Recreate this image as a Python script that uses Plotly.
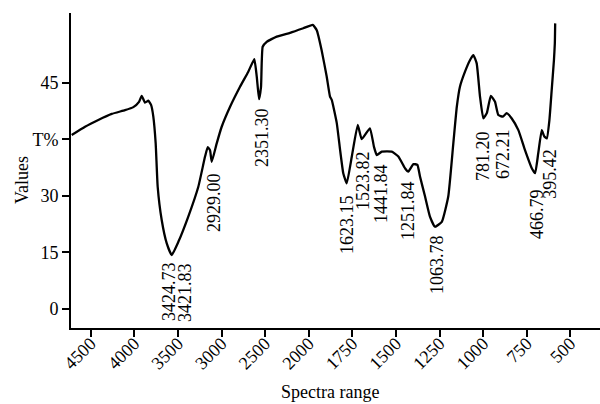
import numpy as np
import plotly.graph_objects as go

# Wavenumber (as read on the chart's axis) and transmittance values (axis units)
wavenumber = [4718, 4565, 4413, 4259, 4107, 4011, 3946, 3915, 3877, 3839, 3808, 3782, 3755, 3732,
              3686, 3628, 3571, 3495, 3381, 3266, 3189, 3158, 3132, 3112, 3055, 2998, 2902, 2788,
              2693, 2624, 2596, 2570, 2547, 2528, 2482, 2367, 2214, 2062, 1977, 1954, 1926, 1897,
              1878, 1868, 1839, 1820, 1802, 1782, 1753, 1719, 1696, 1649, 1626, 1610, 1581, 1524,
              1486, 1448, 1429, 1400, 1377, 1362, 1333, 1305, 1276, 1237, 1200, 1171, 1151, 1133,
              1104, 1075, 1056, 1037, 1018, 999, 979, 956, 932, 913, 887, 865, 836, 798, 760, 721,
              702, 684, 664, 649, 635, 620, 607, 594, 589, 587]
transmittance = [46.1, 48.3, 50.1, 51.7, 52.7, 53.5, 54.9, 56.5, 54.7, 55.2, 54.1, 51.0, 43.9, 32.4,
                 23.6, 17.4, 14.3, 17.8, 24.5, 32.4, 40.4, 42.9, 42.1, 39.0, 43.9, 48.3, 53.6, 58.9,
                 62.9, 66.2, 61.6, 55.6, 58.9, 69.5, 70.8, 72.2, 73.2, 74.4, 75.3, 73.9, 68.6, 61.6,
                 56.3, 55.4, 49.2, 42.1, 36.0, 33.3, 40.4, 48.8, 45.0, 47.9, 43.0, 40.8, 41.7, 41.7,
                 40.4, 37.3, 36.4, 38.4, 38.2, 35.1, 29.8, 24.5, 21.8, 23.1, 29.8, 43.9, 53.6, 58.9,
                 62.9, 66.0, 67.3, 65.1, 56.3, 50.5, 51.9, 56.5, 54.9, 51.4, 51.0, 51.9, 50.5, 47.4,
                 42.1, 37.3, 36.0, 41.3, 47.4, 45.7, 45.2, 50.1, 58.0, 66.0, 70.4, 75.7]

# Peak labels: text and label-centre positions (axis units)
peak_labels = ["3424.73", "3421.83", "2929.00", "2351.30", "1623.15", "1523.82", "1441.84",
               "1251.84", "1063.78", "781.20", "672.21", "466.79", "395.42"]
label_w = [3602, 3419, 3086, 2536, 1780, 1689, 1586, 1431, 1264, 1000, 886, 691, 617]
label_t = [4.5, 4.5, 28.1, 45.6, 22.3, 34.2, 30.7, 26.2, 11.7, 40.6, 41.1, 25.2, 35.8]

x_tick_values = [4500, 4000, 3500, 3000, 2500, 2000, 1750, 1500, 1250, 1000, 750, 500]
y_tick_values = [0, 15, 30, 45, 60]
y_tick_text = ["0", "15", "30", "T%", "45"]


def axis_pos(w):
    """Piecewise wavenumber scale: 500 cm-1 per division above 2000, 250 below."""
    w = np.asarray(w, dtype=float)
    return np.where(w >= 2000, (4500 - w) / 500.0, 5 + (2000 - w) / 250.0)


FONT = "Liberation Serif, Times New Roman, serif"

fig = go.Figure()
fig.add_trace(go.Scatter(
    x=axis_pos(wavenumber), y=transmittance, mode="lines",
    line=dict(color="black", width=2.3, shape="spline", smoothing=0.4),
    showlegend=False, hoverinfo="skip"))

lx = axis_pos(label_w)
for txt, x, y in zip(peak_labels, lx, label_t):
    fig.add_annotation(x=x, y=y, xref="x", yref="y", text=txt, showarrow=False,
                       textangle=-90, font=dict(family=FONT, size=18, color="black"))

# axis titles
fig.add_annotation(x=0.4896, y=-0.2413, xref="paper", yref="paper", text="Spectra range",
                   showarrow=False, xanchor="center", yanchor="bottom",
                   font=dict(family=FONT, size=18, color="black"))
fig.add_annotation(x=-0.0926, y=0.4698, xref="paper", yref="paper", text="Values",
                   showarrow=False, textangle=-90, xanchor="center", yanchor="middle",
                   font=dict(family=FONT, size=18, color="black"))

fig.update_layout(
    template="none",
    width=600, height=404,
    margin=dict(l=71, r=0, t=13, b=76, autoexpand=False),
    paper_bgcolor="white", plot_bgcolor="white",
    font=dict(family=FONT, size=18, color="black"),
    hovermode=False,
    xaxis=dict(
        range=[-0.452, 11.68], tickmode="array", automargin=False,
        tickvals=list(axis_pos(x_tick_values)), ticktext=[str(v) for v in x_tick_values],
        tickangle=-45, ticks="outside", ticklen=7, tickwidth=2, tickcolor="black",
        ticklabelstandoff=-11,
        showline=True, linecolor="black", linewidth=2, showgrid=False, zeroline=False,
        tickfont=dict(family=FONT, size=18)),
    yaxis=dict(
        range=[-5.04, 78.45], tickmode="array", tickvals=y_tick_values, ticktext=y_tick_text,
        automargin=False,
        ticks="outside", ticklen=7, tickwidth=2, tickcolor="black",
        showline=True, linecolor="black", linewidth=2, showgrid=False, zeroline=False,
        tickfont=dict(family=FONT, size=18)),
)

fig.write_html("out.html", config={"displayModeBar": False, "staticPlot": True},
               post_script="document.body.style.margin='0';document.body.style.overflow='hidden';")
